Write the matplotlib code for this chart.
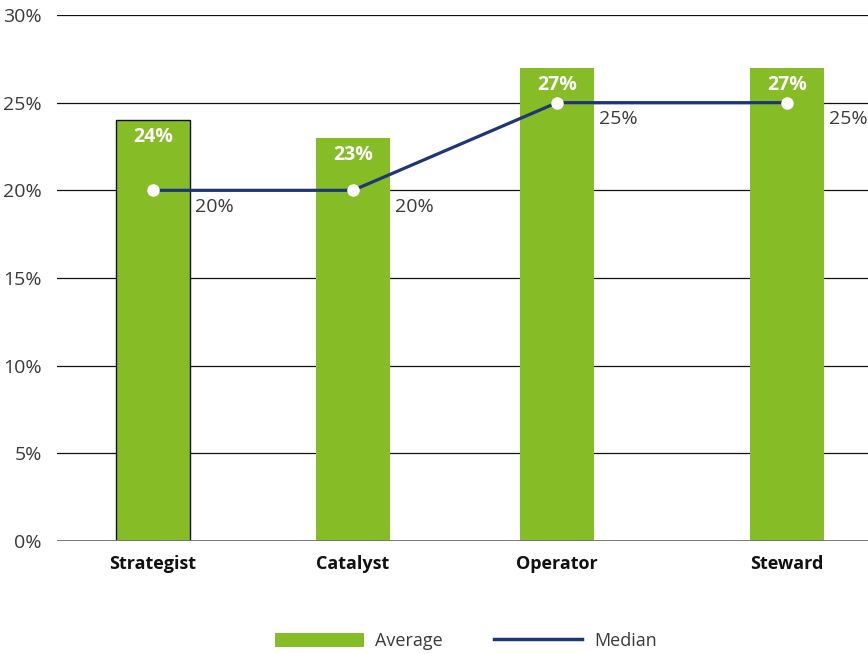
import matplotlib
matplotlib.use("Agg")
import matplotlib.pyplot as plt
from matplotlib.patches import Patch
from matplotlib.lines import Line2D

categories = ["Strategist", "Catalyst", "Operator", "Steward"]
average = [24, 23, 27, 27]
median = [20, 20, 25, 25]
y_ticks = [0, 5, 10, 15, 20, 25, 30]

# horizontal layout of the category slots (axis units)
slot_x = [153, 353, 557, 787]
bar_width = 74

GREEN = "#86bc25"
NAVY = "#1f3674"
GREY_TEXT = "#3a3a3a"

plt.rcParams["font.family"] = ["Open Sans", "DejaVu Sans"]

fig = plt.figure(figsize=(8.68, 6.54), dpi=100)
ax = fig.add_axes([57 / 868, 1 - 541 / 654, (868 - 57) / 868, (541 - 15) / 654])

ax.set_xlim(57, 868)
ax.set_ylim(0, 30)

for t in y_ticks[1:]:
    ax.axhline(t, color="#111111", lw=0.9, zorder=0)
ax.axhline(0, color="#777777", lw=1.4, zorder=3)

edges = ["#111111", "none", "none", "none"]
for x, v, ec in zip(slot_x, average, edges):
    ax.bar(x, v, width=bar_width, color=GREEN, edgecolor=ec, linewidth=1.0, zorder=2)
    ax.text(x, v - 0.4, f"{v}%", ha="center", va="top", color="white",
            fontsize=14, fontweight="bold", zorder=5)

ax.plot(slot_x, median, color=NAVY, lw=2.3, zorder=4, solid_capstyle="butt")
ax.plot(slot_x, median, "o", color="white", markersize=9, markeredgewidth=0, zorder=6)
for x, m in zip(slot_x, median):
    ax.annotate(f"{m}%", (x, m), xytext=(30, -12), textcoords="offset points",
                ha="left", va="center", color=GREY_TEXT, fontsize=14, zorder=6)

ax.set_yticks(y_ticks)
ax.set_yticklabels([f"{t}%" for t in y_ticks], color=GREY_TEXT, fontsize=14)
ax.set_xticks(slot_x)
ax.set_xticklabels(categories, fontsize=13, fontweight="bold", color="#111111")
ax.tick_params(axis="both", length=0)
ax.tick_params(axis="y", pad=11)
ax.tick_params(axis="x", pad=10)
for s in ax.spines.values():
    s.set_visible(False)

handles = [Patch(facecolor=GREEN, edgecolor="none"),
           Line2D([0], [0], color=NAVY, lw=2.5)]
fig.legend(handles, ["Average", "Median"], loc="center", bbox_to_anchor=(466 / 868, 1 - 641 / 654),
           ncol=2, frameon=False, fontsize=13, handlelength=4.9, handleheight=0.8,
           columnspacing=2.8, handletextpad=0.65, labelcolor=GREY_TEXT)

fig.savefig("out.png", dpi=100)
